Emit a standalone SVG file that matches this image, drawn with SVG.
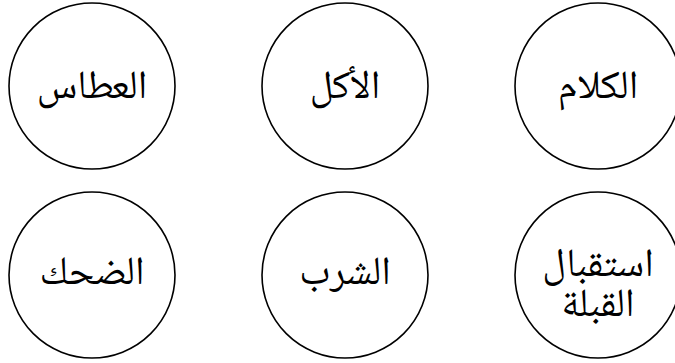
<svg xmlns="http://www.w3.org/2000/svg" width="675" height="363" viewBox="0 0 675 363">
<style>
.n{fill:#fff;stroke:#000;stroke-width:1.6}
.t{font-family:"Noto Naskh Arabic","Noto Sans Arabic","DejaVu Sans",sans-serif;font-size:40px;fill:#000;text-anchor:middle;direction:rtl}
</style>
<rect width="675" height="363" fill="#fff"/>
<g id="connectors"/>
<g id="n1"><circle class="n" cx="92" cy="86" r="83"/><text class="t" x="92" y="98">العطاس</text></g>
<g id="n2"><circle class="n" cx="345" cy="86" r="83"/><text class="t" x="345" y="98">الأكل</text></g>
<g id="n3"><circle class="n" cx="598" cy="86" r="83"/><text class="t" x="598" y="98">الكلام</text></g>
<g id="n4"><circle class="n" cx="92" cy="275" r="83"/><text class="t" x="92" y="284">الضحك</text></g>
<g id="n5"><circle class="n" cx="345" cy="275" r="83"/><text class="t" x="345" y="284">الشرب</text></g>
<g id="n6"><circle class="n" cx="598" cy="275" r="83"/><text class="t"><tspan x="598" y="276">استقبال</tspan><tspan x="598" y="316">القبلة</tspan></text></g>
</svg>
